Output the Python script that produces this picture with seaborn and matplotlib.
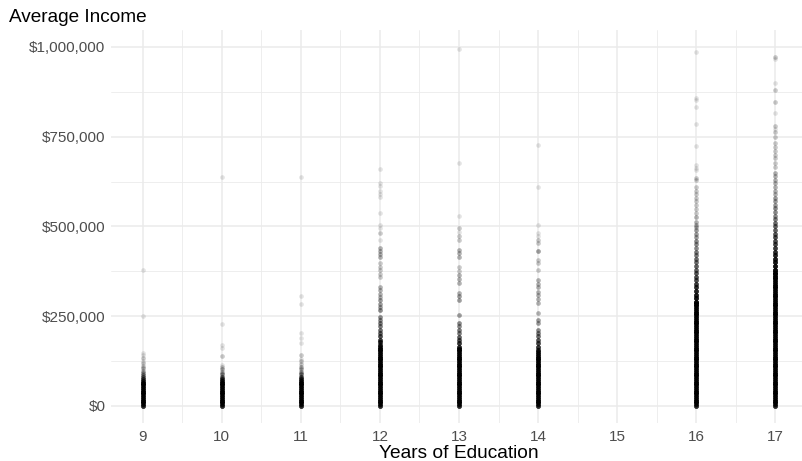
import numpy as np
import pandas as pd
import matplotlib
matplotlib.use("Agg")
import matplotlib.pyplot as plt
import seaborn as sns

# ---- data (income in thousands of dollars, with number of overlapping respondents) ----
inc9 = [379, 251, 148, 141, 134, 126, 119, 112, 105, 98, 92, 86, 80, 75, 70, 65,
        60, 55, 50, 45, 40, 35, 30, 25, 20, 15, 10, 5, 0]
cnt9 = [1, 1, 1, 1, 2, 1, 2, 2, 3, 3, 4, 5, 7, 10, 13, 15,
        15, 15, 15, 15, 15, 15, 15, 15, 15, 15, 15, 15, 15]

inc10 = [638, 228, 170, 162, 139, 115, 109, 102, 95, 88, 82, 76,
         70, 65, 60, 55, 50, 45, 40, 35, 30, 25, 20, 15, 10, 5, 0]
cnt10 = [1, 1, 1, 1, 2, 1, 2, 3, 3, 5, 8, 12,
         15, 15, 15, 15, 15, 15, 15, 15, 15, 15, 15, 15, 15, 15, 15]

inc11 = [638, 306, 284, 203, 189, 175, 142, 132, 125, 116, 109, 102, 95, 88, 82, 76,
         70, 65, 60, 55, 50, 45, 40, 35, 30, 25, 20, 15, 10, 5, 0]
cnt11 = [1, 1, 1, 1, 1, 1, 2, 1, 2, 2, 3, 3, 4, 6, 10, 13,
         15, 15, 15, 15, 15, 15, 15, 15, 15, 15, 15, 15, 15, 15, 15]

inc12 = [660, 621, 612, 600, 590, 582, 538, 504, 495, 482, 462, 440, 432, 424, 415, 398, 388,
         378, 368, 359, 331, 322, 313, 304, 295, 285, 276, 267, 248, 240, 231, 222, 212, 203,
         194, 184, 177,
         170, 165, 160, 155, 150, 145, 140, 135, 130, 125, 120, 115, 110, 105, 100, 95, 90,
         85, 80, 75, 70, 65, 60, 55, 50, 45, 40, 35, 30, 25, 20, 15, 10, 5, 0]
cnt12 = [1, 1, 1, 1, 1, 1, 1, 1, 1, 2, 1, 3, 3, 3, 3, 2, 2,
         2, 2, 2, 3, 3, 3, 3, 4, 4, 4, 5, 5, 5, 6, 6, 7, 8,
         10, 12, 14,
         15, 15, 15, 15, 15, 15, 15, 15, 15, 15, 15, 15, 15, 15, 15, 15, 15,
         15, 15, 15, 15, 15, 15, 15, 15, 15, 15, 15, 15, 15, 15, 15, 15, 15, 15]

inc13 = [995, 677, 529, 496, 485, 473, 462, 434, 425, 415, 387, 376, 365, 354, 343, 315, 305,
         295, 253, 231, 222, 212, 203, 193, 184, 174,
         165, 160, 155, 150, 145, 140, 135, 130, 125, 120, 115, 110, 105, 100, 95, 90,
         85, 80, 75, 70, 65, 60, 55, 50, 45, 40, 35, 30, 25, 20, 15, 10, 5, 0]
cnt13 = [1, 1, 1, 2, 1, 2, 2, 3, 3, 3, 2, 2, 3, 3, 3, 3, 4,
         4, 4, 5, 5, 6, 6, 8, 10, 13,
         15, 15, 15, 15, 15, 15, 15, 15, 15, 15, 15, 15, 15, 15, 15, 15,
         15, 15, 15, 15, 15, 15, 15, 15, 15, 15, 15, 15, 15, 15, 15, 15, 15, 15]

inc14 = [727, 610, 504, 482, 472, 463, 454, 432, 407, 398, 379, 351, 341, 331, 318, 308, 297,
         287, 259, 240, 231, 212, 203, 194, 184, 174, 164, 155,
         150, 145, 140, 135, 130, 125, 120, 115, 110, 105, 100, 95, 90,
         85, 80, 75, 70, 65, 60, 55, 50, 45, 40, 35, 30, 25, 20, 15, 10, 5, 0]
cnt14 = [1, 1, 1, 1, 1, 2, 2, 4, 2, 2, 2, 3, 3, 3, 3, 3, 3,
         3, 3, 4, 4, 5, 6, 7, 9, 11, 13, 15,
         15, 15, 15, 15, 15, 15, 15, 15, 15, 15, 15, 15, 15,
         15, 15, 15, 15, 15, 15, 15, 15, 15, 15, 15, 15, 15, 15, 15, 15, 15, 15]

inc16 = [986, 858, 852, 833, 785, 724, 671, 664, 657, 635, 630, 610, 600, 590, 580, 570, 560,
         548, 538, 525, 513, 505, 499, 490, 480, 470, 460, 450, 440, 430, 420, 410, 400, 390,
         380, 370, 360, 350, 340, 330, 320, 310, 300, 290,
         285, 280, 275, 270, 265, 260, 255, 250, 245, 240, 235, 230, 225, 220, 215, 210,
         205, 200, 195, 190, 185, 180, 175, 170, 165, 160, 155, 150, 145, 140, 135, 130,
         125, 120, 115, 110, 105, 100, 95, 90, 85, 80, 75, 70, 65, 60, 55, 50, 45, 40,
         35, 30, 25, 20, 15, 10, 5, 0]
cnt16 = [1, 1, 1, 1, 1, 1, 1, 1, 1, 2, 2, 2, 2, 2, 2, 2, 2,
         2, 2, 3, 3, 3, 3, 4, 4, 4, 5, 5, 5, 6, 6, 7, 7, 8,
         8, 9, 10, 10, 12, 14, 16, 18, 20, 24,
         15, 15, 15, 15, 15, 15, 15, 15, 15, 15, 15, 15, 15, 15, 15, 15,
         15, 15, 15, 15, 15, 15, 15, 15, 15, 15, 15, 15, 15, 15, 15, 15,
         15, 15, 15, 15, 15, 15, 15, 15, 15, 15, 15, 15, 15, 15, 15, 15, 15, 15,
         15, 15, 15, 15, 15, 15, 15, 15]

inc17 = [972, 966, 900, 880, 847, 816, 780, 772, 763, 749, 733, 722, 711, 700, 690, 678, 666,
         649, 640, 630, 620, 610, 600, 590, 580, 570, 560, 550, 540, 530, 520, 510, 500, 490,
         480, 470, 460, 450, 440, 430, 420, 410, 400, 390, 380, 370,
         365, 360, 355, 350, 345, 340, 335, 330, 325, 320, 315, 310, 305, 300, 295, 290,
         285, 280, 275, 270, 265, 260, 255, 250, 245, 240, 235, 230, 225, 220, 215, 210,
         205, 200, 195, 190, 185, 180, 175, 170, 165, 160, 155, 150, 145, 140, 135, 130,
         125, 120, 115, 110, 105, 100, 95, 90, 85, 80, 75, 70, 65, 60, 55, 50, 45, 40,
         35, 30, 25, 20, 15, 10, 5, 0]
cnt17 = [2, 1, 1, 2, 2, 1, 2, 1, 2, 2, 2, 2, 2, 2, 2, 2, 2,
         3, 3, 3, 3, 3, 3, 3, 4, 4, 4, 5, 5, 5, 6, 7, 8, 8,
         9, 10, 10, 11, 12, 14, 16, 18, 20, 22, 25, 28,
         15, 15, 15, 15, 15, 15, 15, 15, 15, 15, 15, 15, 15, 15, 15, 15,
         15, 15, 15, 15, 15, 15, 15, 15, 15, 15, 15, 15, 15, 15, 15, 15,
         15, 15, 15, 15, 15, 15, 15, 15, 15, 15, 15, 15, 15, 15, 15, 15,
         15, 15, 15, 15, 15, 15, 15, 15, 15, 15, 15, 15, 15, 15, 15, 15, 15, 15,
         15, 15, 15, 15, 15, 15, 15, 15]

education_levels = [9, 10, 11, 12, 13, 14, 16, 17]
incomes = [inc9, inc10, inc11, inc12, inc13, inc14, inc16, inc17]
counts = [cnt9, cnt10, cnt11, cnt12, cnt13, cnt14, cnt16, cnt17]

x_ticks = [9, 10, 11, 12, 13, 14, 15, 16, 17]
y_ticks = [0, 250000, 500000, 750000, 1000000]
y_tick_labels = ["$0", "$250,000", "$500,000", "$750,000", "$1,000,000"]

# ---- build long table ----
rows_x, rows_y = [], []
for edu, inc, cnt in zip(education_levels, incomes, counts):
    for v, c in zip(inc, cnt):
        rows_x.extend([edu] * c)
        rows_y.extend([v * 1000] * c)
df = pd.DataFrame({"educ": rows_x, "income": rows_y})

# ---- figure ----
sns.set_style("white")
plt.rcParams["font.family"] = ["Liberation Sans", "DejaVu Sans"]

W, H = 803, 461
fig = plt.figure(figsize=(W / 100, H / 100), dpi=100)
left, right, top, bottom = 111, 807, 30, 423
ax = fig.add_axes([left / W, 1 - bottom / H, (right - left) / W, (bottom - top) / H])

grid_col = "#EBEBEB"
for m in [8.5 + i for i in range(10)]:
    ax.axvline(m, color=grid_col, lw=0.6, zorder=0)
for m in [125000, 375000, 625000, 875000]:
    ax.axhline(m, color=grid_col, lw=0.6, zorder=0)
for t in x_ticks:
    ax.axvline(t, color=grid_col, lw=1.1, zorder=0)
for t in y_ticks:
    ax.axhline(t, color=grid_col, lw=1.1, zorder=0)

sns.scatterplot(data=df, x="educ", y="income", color="black", alpha=0.11,
                s=11, linewidth=0, ax=ax, zorder=3, legend=False)

ax.set_xlim(8.6, 17.4)
ax.set_ylim(-47400, 1047000)
ax.set_xticks(x_ticks)
ax.set_xticklabels([str(t) for t in x_ticks])
ax.set_yticks(y_ticks)
ax.set_yticklabels(y_tick_labels)
ax.tick_params(axis="both", length=0, labelsize=11, labelcolor="#4D4D4D")
ax.tick_params(axis="x", pad=5)
ax.tick_params(axis="y", pad=4)
for s in ax.spines.values():
    s.set_visible(False)
ax.set_xlabel("")
ax.set_ylabel("")
ax.set_facecolor("none")

fig.text(9 / W, 1 - 22 / H, "Average Income", fontsize=13.7, color="black",
         ha="left", va="baseline")
fig.text((left + right) / 2 / W, 1 - 458 / H, "Years of Education", fontsize=13.8,
         color="black", ha="center", va="baseline")

fig.savefig("out.png", dpi=100, facecolor="white")
